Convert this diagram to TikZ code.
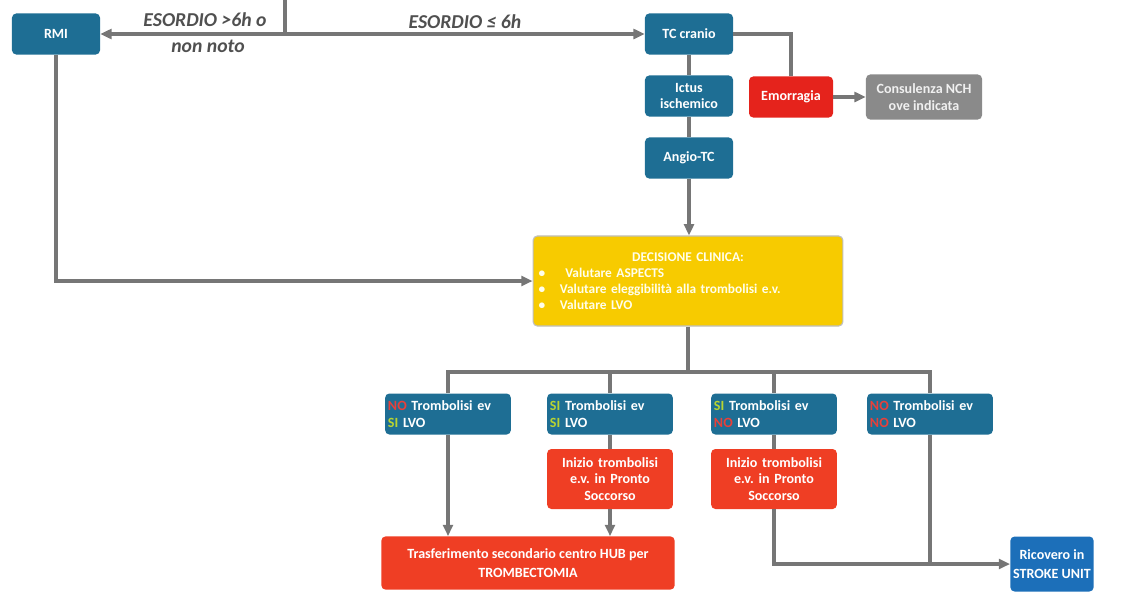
\documentclass[tikz,border=0pt]{standalone}
\usepackage{fontspec}
\setmainfont{Carlito}
\usetikzlibrary{arrows.meta}
\definecolor{boxblue}{HTML}{1E6E94}
\definecolor{unitblue}{HTML}{1C6FB9}
\definecolor{emored}{HTML}{E5231C}
\definecolor{actred}{HTML}{EF3E24}
\definecolor{nchgray}{HTML}{8A8A8A}
\definecolor{decyellow}{HTML}{F7CB00}
\definecolor{linegray}{HTML}{767676}
\definecolor{labgray}{HTML}{505050}
\definecolor{sigreen}{HTML}{B9D431}
\definecolor{nored}{HTML}{E8403A}
\newcommand{\yes}{\textcolor{sigreen}{SI}}
\newcommand{\no}{\textcolor{nored}{NO}}
\frenchspacing
\tikzset{
  box/.style={fill=boxblue, rounded corners=3pt, text=white, align=center,
    font=\bfseries\fontsize{10}{12}\selectfont, inner sep=2pt,
    minimum width=2.2cm, minimum height=1.025cm},
  choice/.style={box, align=left, text width=3.0cm, minimum height=1.025cm},
  action/.style={box, fill=actred, text width=3.0cm, minimum height=1.5cm},
  flow/.style={draw=linegray, line width=2.2pt},
  arr/.style={flow, -{Triangle[length=8pt,width=7pt]}},
  onset/.style={text=labgray, font=\bfseries\itshape\fontsize{14}{16}\selectfont}
}
\begin{document}
\begin{tikzpicture}[x=0.025cm, y=-0.025cm]
  \useasboundingbox (0,0) rectangle (1136,606);

  % imaging
  \node[box] (rmi) at (56,34) {RMI};
  \node[box] (tc) at (689,34) {TC cranio};
  \node[box] (ictus) at (689,96) {Ictus\\ischemico};
  \node[box] (angio) at (689,158) {Angio-TC};
  \node[box, fill=emored, minimum width=2.1cm] (emo) at (791,97) {Emorragia};
  \node[box, fill=nchgray, text=white!94!black, minimum width=2.9cm, minimum height=1.125cm]
    (nch) at (924,97) {Consulenza NCH\\ove indicata};

  \coordinate (top) at (285,0);
  \coordinate (split) at (285,34);
  \node[onset] (late1) at (205,20) {ESORDIO >6h o};
  \node[onset] (late2) at (208,46) {non noto};
  \node[onset] (early) at (465,22) {ESORDIO ≤ 6h};

  % decision
  \node[box, fill=decyellow, draw=black!25, line width=0.8pt, text=yellow!8,
    font=\bfseries\fontsize{9.5}{11.5}\selectfont, align=left, text width=7.6cm,
    minimum height=2.25cm] (dec) at (688,281)
    {\makebox[7.6cm]{DECISIONE CLINICA:}\\
     \hspace{0.2em}\textbullet\hspace{1.5em}Valutare ASPECTS\\
     \hspace{0.2em}\textbullet\hspace{1.1em}Valutare eleggibilità alla trombolisi e.v.\\
     \hspace{0.2em}\textbullet\hspace{1.1em}Valutare LVO};
  \coordinate (bar) at (688,372);

  % outcomes
  \node[choice] (c1) at (448,414) {\no{} Trombolisi ev\\\yes{} LVO};
  \node[choice] (c2) at (610,414) {\yes{} Trombolisi ev\\\yes{} LVO};
  \node[choice] (c3) at (774,414) {\yes{} Trombolisi ev\\\no{} LVO};
  \node[choice] (c4) at (930,414) {\no{} Trombolisi ev\\\no{} LVO};
  \node[action] (ev2) at (610,479) {Inizio trombolisi\\e.v. in Pronto\\Soccorso};
  \node[action] (ev3) at (774,479) {Inizio trombolisi\\e.v. in Pronto\\Soccorso};
  \node[box, fill=actred, font=\bfseries\fontsize{10}{13.5}\selectfont,
    minimum width=7.33cm, minimum height=1.33cm] (hub) at (528,563)
    {Trasferimento secondario centro HUB per\\TROMBECTOMIA};
  \node[box, fill=unitblue, font=\bfseries\fontsize{10}{13.5}\selectfont,
    minimum width=1.825cm, minimum height=1.375cm]
    (unit) at (1052,564) {Ricovero in\\STROKE UNIT};

  % connectors
  \draw[flow] (top) -- (split);
  \draw[arr] (split) -- (rmi);
  \draw[arr] (split) -- (tc);
  \draw[flow] (tc) -- (ictus);
  \draw[flow] (ictus) -- (angio);
  \draw[flow] (tc.east) -| (emo.north);
  \draw[arr] (emo) -- (nch);
  \draw[arr] (angio.south) -- (angio.south |- dec.north);
  \draw[arr] (rmi.south) |- (dec.west);
  \draw[flow] (dec.south) -- (bar);
  \draw[flow] (c1.north) -- (c1.north |- bar) -- (c4.north |- bar) -- (c4.north);
  \foreach \c in {c2,c3} {
    \draw[flow] (\c.north |- bar) -- (\c.north);
  }
  \draw[flow] (c2) -- (ev2);
  \draw[flow] (c3) -- (ev3);
  \draw[arr] (c1.south) -- (c1.south |- hub.north);
  \draw[arr] (ev2.south) -- (ev2.south |- hub.north);
  \draw[arr] (ev3.south) |- (unit.west);
  \draw[flow] (c4.south) -- (c4.south |- unit.west);
\end{tikzpicture}
\end{document}
